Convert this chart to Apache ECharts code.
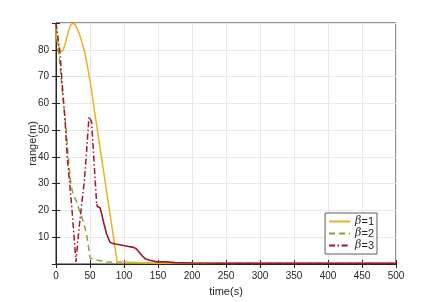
<!DOCTYPE html>
<html>
<head>
<meta charset="utf-8">
<script src="https://cdn.jsdelivr.net/npm/echarts@6/dist/echarts.min.js"></script>
<style>html,body{margin:0;padding:0;background:#fff}#c{width:436px;height:302px}</style>
</head>
<body>
<div id="c"></div>
<script>
// beta = 1
var t1 = [0, 2, 4, 6, 7.5, 9, 11, 13, 15, 17, 19, 21, 23, 25, 27, 29, 31, 34, 37, 40, 42.6, 45, 47.5, 50, 52.5, 55, 57.3, 90, 91, 150, 200, 300, 400, 500];
var r1 = [86, 83.5, 81.2, 79.8, 79.2, 79.3, 80.2, 81.8, 83.7, 85.7, 87.5, 88.9, 89.7, 90, 89.8, 89.1, 88, 86.2, 83.8, 81.2, 78.6, 75.6, 72, 68.5, 64.5, 60, 56, 0.8, 0.3, 0.3, 0.3, 0.3, 0.3, 0.3];
// beta = 2
var t2 = [0, 5, 10, 15, 18, 21.6, 25, 30, 35, 40, 45, 48, 50, 55, 60, 72, 80, 90, 120, 150, 500];
var r2 = [88, 76, 63, 50, 40, 30.3, 26, 23.5, 19.5, 16, 11.2, 6, 2.2, 1.8, 1.5, 0.8, 0.7, 0.6, 0.4, 0.3, 0.3];
// beta = 3 (first part, dash-dot)
var t3 = [0, 5.9, 9.3, 13.2, 16.6, 23, 29.4, 33, 37.7, 41.7, 45, 48.5, 52.4, 56, 59.8];
var r3 = [90, 78.8, 66.5, 54.2, 39.5, 22, 0.8, 11, 22.3, 31, 42, 55, 53, 38, 22.3];
// beta = 3 (noisy tail)
var t3b = [59.8, 61, 64.7, 67, 69.5, 74.4, 79.4, 83, 86.8, 92, 99, 105, 110, 114, 118, 122, 127, 131, 138, 148, 160, 175, 200, 250, 300, 400, 500];
var r3b = [22.3, 21.5, 21, 19, 16, 11.2, 8.1, 7.7, 7.5, 7.3, 6.9, 6.6, 6.4, 6.2, 5.7, 4.5, 3, 2, 1.4, 0.8, 0.8, 0.5, 0.4, 0.3, 0.3, 0.3, 0.3];
var xTicks = [0, 50, 100, 150, 200, 250, 300, 350, 400, 450, 500];
var yTicks = [10, 20, 30, 40, 50, 60, 70, 80];
var legendNames = ['β=1', 'β=2', 'β=3'];

function zip(a, b) { return a.map(function (v, i) { return [v, b[i]]; }); }

var axisColor = '#262626';
var font = 'Liberation Sans, Arial, Helvetica, sans-serif';
var chart = echarts.init(document.getElementById('c'));
chart.setOption({
  animation: false,
  grid: { left: 56, right: 40, top: 23, bottom: 35, show: true, borderColor: axisColor, borderWidth: 1 },
  legend: {
    right: 59, top: 213, orient: 'vertical', itemWidth: 21, itemHeight: 10, itemGap: 1,
    backgroundColor: '#fff', borderColor: '#333', borderWidth: 0.8, padding: [3, 3, 3, 3],
    data: legendNames,
    itemStyle: { opacity: 0 },
    textStyle: { fontFamily: font, fontSize: 11, color: '#262626',
      rich: { i: { fontStyle: 'italic', fontFamily: 'DejaVu Serif, serif', fontSize: 11, color: '#262626' } } },
    formatter: function (n) { return '{i|β}' + n.slice(1); }
  },
  xAxis: [{
    type: 'value', min: 0, max: 500, interval: 50,
    name: 'time(s)', nameLocation: 'middle', nameGap: 22, nameMoveOverlap: false,
    nameTextStyle: { fontFamily: font, fontSize: 11, color: axisColor },
    axisLine: { show: true, lineStyle: { color: axisColor } },
    axisTick: { inside: true, length: 4, lineStyle: { color: axisColor } },
    axisLabel: { fontFamily: font, fontSize: 10, color: axisColor, margin: 7,
      formatter: function (v) { return xTicks.indexOf(v) >= 0 ? String(v) : ''; } },
    splitLine: { show: true, lineStyle: { color: '#e8e8e8' } }
  }, {
    type: 'value', position: 'top', min: 0, max: 500, interval: 50,
    axisLine: { show: true, lineStyle: { color: axisColor } },
    axisTick: { inside: true, length: 4, lineStyle: { color: axisColor } },
    axisLabel: { show: false }, splitLine: { show: false }
  }],
  yAxis: [{
    type: 'value', min: 0, max: 90, interval: 10,
    name: 'range(m)', nameLocation: 'middle', nameGap: 18, nameMoveOverlap: false,
    nameTextStyle: { fontFamily: font, fontSize: 11, color: axisColor },
    axisLine: { show: true, lineStyle: { color: axisColor } },
    axisTick: { inside: true, length: 4, lineStyle: { color: axisColor } },
    axisLabel: { fontFamily: font, fontSize: 10, color: axisColor, margin: 7,
      formatter: function (v) { return yTicks.indexOf(v) >= 0 ? String(v) : ''; } },
    splitLine: { show: true, lineStyle: { color: '#e8e8e8' } }
  }, {
    type: 'value', position: 'right', min: 0, max: 90, interval: 10,
    axisLine: { show: true, lineStyle: { color: axisColor } },
    axisTick: { inside: true, length: 4, lineStyle: { color: axisColor } },
    axisLabel: { show: false }, splitLine: { show: false }
  }],
  series: [
    { name: legendNames[0], type: 'line', data: zip(t1, r1), showSymbol: false, symbol: 'none',
      color: '#EDB120', lineStyle: { width: 1.5, color: '#EDB120' }, z: 3 },
    { name: legendNames[1], type: 'line', data: zip(t2, r2), showSymbol: false, symbol: 'none',
      color: '#77AC30', lineStyle: { width: 1.5, color: '#77AC30', type: [6, 4] }, z: 2 },
    { name: legendNames[2], type: 'line', data: zip(t3, r3), showSymbol: false, symbol: 'none',
      color: '#A2142F', lineStyle: { width: 1.5, color: '#A2142F', type: [6, 2.5, 1.5, 2.5] }, z: 4 },
    { name: 'tail3', type: 'line', data: zip(t3b, r3b), showSymbol: false, symbol: 'none',
      color: '#A2142F', lineStyle: { width: 1.6, color: '#A2142F' }, z: 4 }
  ]
});
</script>
</body>
</html>
